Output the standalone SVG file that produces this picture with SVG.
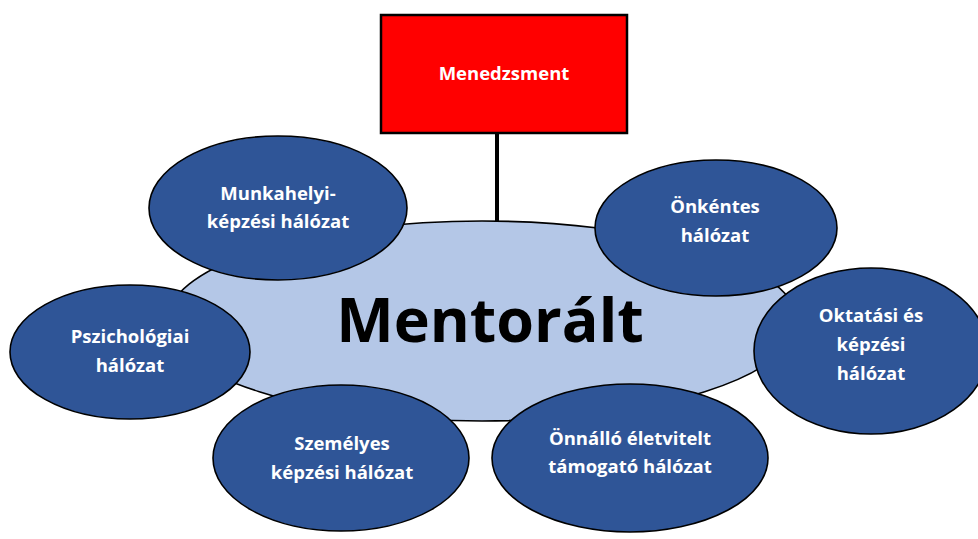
<svg xmlns="http://www.w3.org/2000/svg" width="978" height="539" viewBox="0 0 978 539">
<style>
.sat{fill:#2F5597;stroke:#000;stroke-width:1.6}
.lbl{font-family:"Open Sans","Liberation Sans",sans-serif;font-weight:bold;font-size:18.5px;fill:#fff;text-anchor:middle}
.big{font-family:"Open Sans","Liberation Sans",sans-serif;font-weight:bold;font-size:61px;fill:#000;text-anchor:middle}
</style>
<rect width="978" height="539" fill="#fff"/>
<g id="connectors">
<line x1="497" y1="133" x2="497" y2="222" stroke="#000" stroke-width="4"/>
</g>
<g id="menedzsment">
<rect x="381" y="15" width="246" height="118" fill="#FF0000" stroke="#000" stroke-width="2.5"/>
<text class="lbl" x="504" y="80">Menedzsment</text>
</g>
<g id="mentoralt">
<ellipse cx="482" cy="321" rx="315" ry="100" fill="#B4C7E7" stroke="#000" stroke-width="1.6"/>
<text class="big" x="490" y="342">Mentorált</text>
</g>
<g id="munkahelyi">
<ellipse class="sat" cx="278" cy="208" rx="129" ry="72"/>
<text class="lbl" x="278" y="200">Munkahelyi-</text>
<text class="lbl" x="278" y="228">képzési hálózat</text>
</g>
<g id="onkentes">
<ellipse class="sat" cx="716" cy="228" rx="121" ry="68"/>
<text class="lbl" x="715" y="213">Önkéntes</text>
<text class="lbl" x="715" y="242">hálózat</text>
</g>
<g id="pszichologiai">
<ellipse class="sat" cx="130" cy="352" rx="120" ry="67"/>
<text class="lbl" x="130" y="343">Pszichológiai</text>
<text class="lbl" x="130" y="372">hálózat</text>
</g>
<g id="oktatasi">
<ellipse class="sat" cx="871" cy="351" rx="117" ry="83"/>
<text class="lbl" x="871" y="322">Oktatási és</text>
<text class="lbl" x="871" y="351">képzési</text>
<text class="lbl" x="871" y="380">hálózat</text>
</g>
<g id="szemelyes">
<ellipse class="sat" cx="341" cy="458" rx="128" ry="73"/>
<text class="lbl" x="342" y="450">Személyes</text>
<text class="lbl" x="342" y="479">képzési hálózat</text>
</g>
<g id="onallo">
<ellipse class="sat" cx="630" cy="458" rx="138" ry="74"/>
<text class="lbl" x="630" y="445">Önnálló életvitelt</text>
<text class="lbl" x="630" y="473">támogató hálózat</text>
</g>
</svg>
